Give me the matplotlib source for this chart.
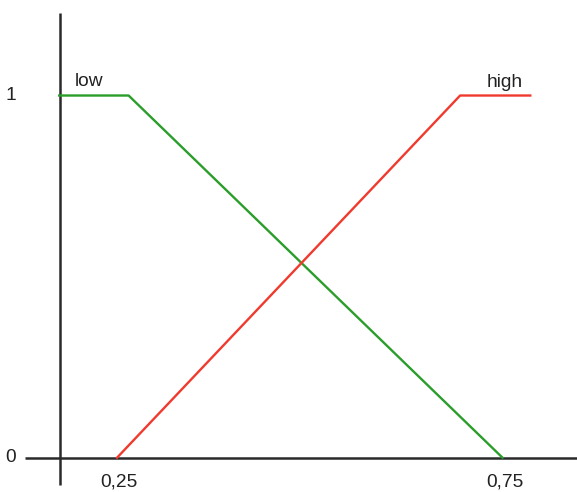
import matplotlib
matplotlib.use("Agg")
import matplotlib.pyplot as plt

# Membership functions
low_x = [0.175, 0.265, 0.75]
low_y = [1, 1, 0]
high_x = [0.25, 0.695, 0.786]
high_y = [0, 1, 1]

x_tick_vals = [0.25, 0.75]
x_tick_labels = ["0,25", "0,75"]
y_tick_vals = [0, 1]
y_tick_labels = ["0", "1"]

plt.rcParams['font.family'] = ['Liberation Sans', 'DejaVu Sans']

fig = plt.figure(figsize=(5.77, 4.92), dpi=100)
ax = fig.add_axes([0, 0, 1, 1])
ax.set_xlim(0.0982, 0.8466)
ax.set_ylim(-0.0947, 1.2637)
ax.axis('off')

axis_col = '#2a2a2a'
y_axis_x = 0.1754
# axes lines
ax.plot([y_axis_x, y_axis_x], [-0.075, 1.228], color=axis_col, lw=1.8, solid_capstyle='butt')
ax.plot([0.131, 0.8466], [0, 0], color=axis_col, lw=1.8, solid_capstyle='butt')

ax.plot(low_x, low_y, color='#2a9d2a', lw=1.7)
ax.plot(high_x, high_y, color='#f03a2e', lw=1.7)

ax.text(0.195, 1.04, "low", fontsize=13.8, color='#222222', va='center', ha='left')
ax.text(0.7295, 1.035, "high", fontsize=13.8, color='#222222', va='center', ha='left')

for v, lab in zip(y_tick_vals, y_tick_labels):
    ax.text(0.105, v, lab, fontsize=13.8, color='#222222', va='center', ha='left')
for v, lab in zip(x_tick_vals, x_tick_labels):
    ax.text(v + 0.003, -0.066, lab, fontsize=13.8, color='#222222', va='center', ha='center')

fig.savefig("out.png", dpi=100)
